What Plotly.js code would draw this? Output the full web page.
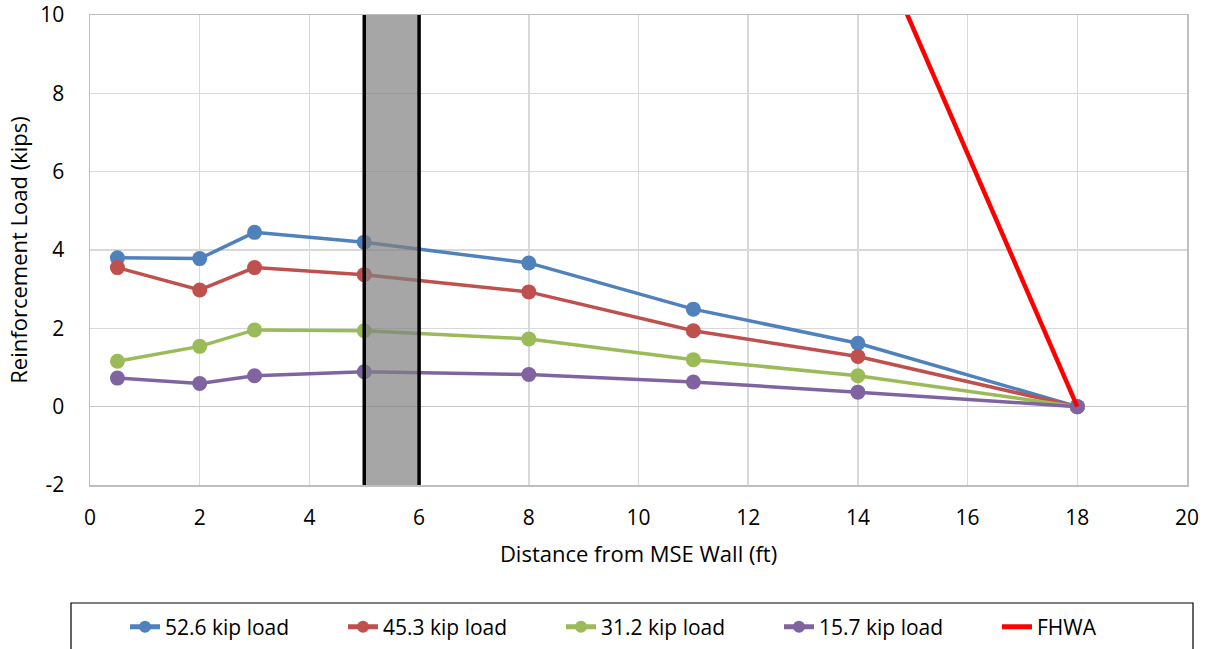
<!DOCTYPE html>
<html>
<head>
<meta charset="utf-8">
<script src="https://cdn.plot.ly/plotly-3.0.1.min.js"></script>
<style>html,body{margin:0;padding:0;background:#fff;}#chart{width:1212px;height:649px;}</style>
</head>
<body>
<div id="chart"></div>
<script>
const distance = [0.5, 2, 3, 5, 8, 11, 14, 18];
const load526 = [3.80, 3.78, 4.45, 4.20, 3.67, 2.49, 1.62, 0];
const load453 = [3.55, 2.98, 3.55, 3.37, 2.93, 1.94, 1.28, 0];
const load312 = [1.16, 1.54, 1.96, 1.94, 1.73, 1.20, 0.79, 0];
const load157 = [0.73, 0.59, 0.79, 0.89, 0.82, 0.63, 0.37, 0];
const fhwaX = [14.5, 18];
const fhwaY = [11.3, 0];
const seriesNames = ['52.6 kip load', '45.3 kip load', '31.2 kip load', '15.7 kip load', 'FHWA'];
const bandX = [5, 6];
const yTickVals = [-2, 0, 2, 4, 6, 8, 10];
const yTickText = ['-2', '0', '2', '4', '6', '8', '10'];

const colors = ['#4F81BD', '#C0504D', '#9BBB59', '#8064A2', '#FF0000'];
const ser = [load526, load453, load312, load157];
const FONT = 'Open Sans, Noto Sans, sans-serif';

const traces = ser.map((vals, i) => ({
  x: distance, y: vals, name: seriesNames[i], type: 'scatter', mode: 'lines+markers',
  line: {color: colors[i], width: 3.5},
  marker: {color: colors[i], size: 15}
}));
traces.push({
  x: fhwaX, y: fhwaY, name: seriesNames[4], type: 'scatter', mode: 'lines',
  line: {color: colors[4], width: 4.5}, legendwidth: 80
});

const layout = {
  width: 1212, height: 649,
  margin: {l: 90, r: 25, t: 15, b: 164},
  paper_bgcolor: '#fff', plot_bgcolor: '#fff',
  font: {family: FONT, size: 21, color: '#000'},
  showlegend: true,
  xaxis: {
    range: [0, 20], dtick: 2, tick0: 0, automargin: false,
    showgrid: true, gridcolor: '#D9D9D9', gridwidth: 1.5,
    showline: true, linecolor: '#BFBFBF', linewidth: 1.5, mirror: true,
    zeroline: false, ticks: '', ticklen: 0, ticklabelstandoff: 13,
    tickfont: {family: FONT, size: 21, color: '#000'},
    title: {text: 'Distance from MSE Wall (ft)', font: {family: FONT, size: 22, color: '#000'}, standoff: 17}
  },
  yaxis: {
    range: [-2, 10], tickmode: 'array', tickvals: yTickVals, ticktext: yTickText, automargin: false,
    showgrid: true, gridcolor: '#D9D9D9', gridwidth: 1.5,
    showline: true, linecolor: '#BFBFBF', linewidth: 1.5, mirror: true,
    zeroline: true, zerolinecolor: '#C8C8C8', zerolinewidth: 1.5,
    ticks: '', ticklen: 0, ticklabelstandoff: 20,
    tickfont: {family: FONT, size: 21, color: '#000'},
    title: {text: 'Reinforcement Load (kips)', font: {family: FONT, size: 22, color: '#000'}, standoff: 6}
  },
  legend: {
    orientation: 'h', x: 35 / 1097, xanchor: 'left',
    yref: 'container', y: 1 - 627 / 649, yanchor: 'middle',
    entrywidth: 173, entrywidthmode: 'pixels',
    bgcolor: 'rgba(0,0,0,0)', borderwidth: 0,
    font: {family: FONT, size: 21, color: '#000'}, itemsizing: 'constant'
  },
  shapes: [
    {type: 'rect', xref: 'x', yref: 'y', x0: bandX[0], x1: bandX[1], y0: -2, y1: 10,
     fillcolor: 'rgba(128,128,128,0.7)', line: {width: 0}, layer: 'above'},
    {type: 'line', xref: 'x', yref: 'y', x0: bandX[0], x1: bandX[0], y0: -2, y1: 10,
     line: {color: '#000', width: 3.5}, layer: 'above'},
    {type: 'line', xref: 'x', yref: 'y', x0: bandX[1], x1: bandX[1], y0: -2, y1: 10,
     line: {color: '#000', width: 3.5}, layer: 'above'},
    {type: 'rect', xref: 'paper', yref: 'paper', x0: (71-90)/1097, x1: (1193-90)/1097,
     y0: -0.3617, y1: -0.2511, line: {color: '#000', width: 1.2}, fillcolor: 'rgba(0,0,0,0)', layer: 'below'}
  ]
};

Plotly.newPlot('chart', traces, layout, {displayModeBar: false, staticPlot: true});
</script>
</body>
</html>
